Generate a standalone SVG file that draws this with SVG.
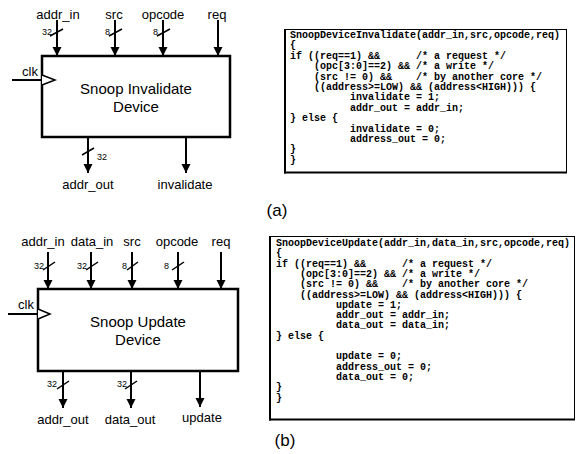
<svg xmlns="http://www.w3.org/2000/svg" width="576" height="454" viewBox="0 0 576 454">
<defs>
<marker id="ah" markerUnits="userSpaceOnUse" markerWidth="10" markerHeight="10" refX="9" refY="4.5" orient="auto">
<path d="M0,0 L9,4.5 L0,9 z" fill="#000"/>
</marker>
<style>
.lbl{font-family:"Liberation Sans",Arial,sans-serif;font-size:13px;fill:#000;text-anchor:middle}
.w{font-family:"Liberation Sans",Arial,sans-serif;font-size:9px;fill:#000}
.ttl{font-family:"Liberation Sans",Arial,sans-serif;font-size:15px;fill:#000;text-anchor:middle}
.cap{font-family:"Liberation Sans",Arial,sans-serif;font-size:17px;fill:#000;text-anchor:middle}
.code{font-family:"Liberation Mono","Courier New",monospace;font-size:10px;font-weight:bold;fill:#000}
.box{fill:#fff;stroke:#000;stroke-width:2.5}
.cbox{fill:#fff;stroke:#000;stroke-width:1}
.wire{stroke:#000;stroke-width:2;fill:none}
.arr{stroke:#000;stroke-width:2;fill:none;marker-end:url(#ah)}
.sl{stroke:#000;stroke-width:1.5}
.clk{fill:#fff;stroke:#000;stroke-width:1.5}
</style>
</defs>

<g id="connectors">
<!-- (a) inputs -->
<line class="arr" x1="57" y1="20" x2="57" y2="56"/>
<line class="arr" x1="115" y1="20" x2="115" y2="56"/>
<line class="arr" x1="163" y1="20" x2="163" y2="56"/>
<line class="arr" x1="218" y1="20" x2="218" y2="56"/>
<line class="wire" x1="12" y1="80" x2="42" y2="80"/>
<!-- (a) outputs -->
<line class="arr" x1="88" y1="137" x2="88" y2="173"/>
<line class="arr" x1="186" y1="137" x2="186" y2="173"/>
<!-- (a) bus slashes -->
<line class="sl" x1="50" y1="36" x2="63" y2="29"/>
<line class="sl" x1="109" y1="36" x2="122" y2="29"/>
<line class="sl" x1="157" y1="36" x2="170" y2="29"/>
<line class="sl" x1="82" y1="155" x2="94" y2="148"/>

<!-- (b) inputs -->
<line class="arr" x1="48" y1="252" x2="48" y2="289"/>
<line class="arr" x1="91" y1="252" x2="91" y2="289"/>
<line class="arr" x1="132" y1="252" x2="132" y2="289"/>
<line class="arr" x1="178" y1="252" x2="178" y2="289"/>
<line class="arr" x1="221" y1="252" x2="221" y2="289"/>
<line class="wire" x1="8" y1="314" x2="38" y2="314"/>
<!-- (b) outputs -->
<line class="arr" x1="63" y1="371" x2="63" y2="408"/>
<line class="arr" x1="131" y1="371" x2="131" y2="408"/>
<line class="arr" x1="200" y1="371" x2="200" y2="407"/>
<!-- (b) bus slashes -->
<line class="sl" x1="43" y1="270" x2="55" y2="262"/>
<line class="sl" x1="86" y1="270" x2="98" y2="262"/>
<line class="sl" x1="127" y1="270" x2="138" y2="262"/>
<line class="sl" x1="172" y1="270" x2="184" y2="262"/>
<line class="sl" x1="57" y1="389" x2="69" y2="381"/>
<line class="sl" x1="125" y1="389" x2="137" y2="381"/>
</g>

<g id="invalidate-device">
<rect class="box" x="42" y="56" width="188" height="81"/>
<path class="clk" d="M42,75 L55,80 L42,85"/>
<text class="ttl" x="136" y="94">Snoop Invalidate</text>
<text class="ttl" x="136" y="112">Device</text>
</g>

<g id="invalidate-labels">
<text class="lbl" x="58" y="19">addr_in</text>
<text class="lbl" x="114" y="19">src</text>
<text class="lbl" x="163" y="19">opcode</text>
<text class="lbl" x="217" y="19">req</text>
<text class="lbl" x="30" y="76">clk</text>
<text class="lbl" x="88" y="189">addr_out</text>
<text class="lbl" x="185" y="189">invalidate</text>
<text class="w" x="42" y="35">32</text>
<text class="w" x="105" y="35">8</text>
<text class="w" x="153" y="35">8</text>
<text class="w" x="97" y="160">32</text>
<text class="cap" x="277" y="216">(a)</text>
</g>

<g id="invalidate-code">
<rect class="cbox" x="284.5" y="29.5" width="282" height="143"/>
<line x1="285" y1="29" x2="285" y2="173.5" stroke="#000" stroke-width="2"/>
<line x1="284" y1="172.5" x2="567" y2="172.5" stroke="#000" stroke-width="2"/>
<text class="code" xml:space="preserve" x="290" y="38">SnoopDeviceInvalidate(addr_in,src,opcode,req)</text>
<text class="code" xml:space="preserve" x="290" y="48.4">{</text>
<text class="code" xml:space="preserve" x="290" y="58.8">if ((req==1) &amp;&amp;      /* a request */</text>
<text class="code" xml:space="preserve" x="290" y="69.2">    (opc[3:0]==2) &amp;&amp; /* a write */</text>
<text class="code" xml:space="preserve" x="290" y="79.6">    (src != 0) &amp;&amp;    /* by another core */</text>
<text class="code" xml:space="preserve" x="290" y="90">    ((address&gt;=LOW) &amp;&amp; (address&lt;HIGH))) {</text>
<text class="code" xml:space="preserve" x="290" y="100.4">          invalidate = 1;</text>
<text class="code" xml:space="preserve" x="290" y="110.8">          addr_out = addr_in;</text>
<text class="code" xml:space="preserve" x="290" y="121.2">} else {</text>
<text class="code" xml:space="preserve" x="290" y="131.6">          invalidate = 0;</text>
<text class="code" xml:space="preserve" x="290" y="142">          address_out = 0;</text>
<text class="code" xml:space="preserve" x="290" y="152.4">}</text>
<text class="code" xml:space="preserve" x="290" y="162.8">}</text>
</g>

<g id="update-device">
<rect class="box" x="38" y="289" width="200" height="82"/>
<path class="clk" d="M38,309 L50,314 L38,319"/>
<text class="ttl" x="138" y="327">Snoop Update</text>
<text class="ttl" x="138" y="345">Device</text>
</g>

<g id="update-labels">
<text class="lbl" x="43" y="246">addr_in</text>
<text class="lbl" x="92" y="246">data_in</text>
<text class="lbl" x="132" y="246">src</text>
<text class="lbl" x="177" y="246">opcode</text>
<text class="lbl" x="221" y="246">req</text>
<text class="lbl" x="26" y="309">clk</text>
<text class="lbl" x="63" y="424">addr_out</text>
<text class="lbl" x="130" y="424">data_out</text>
<text class="lbl" x="202" y="422">update</text>
<text class="w" x="34" y="269">32</text>
<text class="w" x="77" y="269">32</text>
<text class="w" x="122" y="269">8</text>
<text class="w" x="164" y="269">8</text>
<text class="w" x="47" y="387">32</text>
<text class="w" x="117" y="387">32</text>
<text class="cap" x="285" y="446">(b)</text>
</g>

<g id="update-code">
<rect class="cbox" x="269.5" y="236.5" width="305" height="183"/>
<line x1="270" y1="236" x2="270" y2="420.5" stroke="#000" stroke-width="2"/>
<line x1="269" y1="419.5" x2="575" y2="419.5" stroke="#000" stroke-width="2"/>
<text class="code" xml:space="preserve" x="276" y="246">SnoopDeviceUpdate(addr_in,data_in,src,opcode,req)</text>
<text class="code" xml:space="preserve" x="276" y="256.3">{</text>
<text class="code" xml:space="preserve" x="276" y="266.6">if ((req==1) &amp;&amp;      /* a request */</text>
<text class="code" xml:space="preserve" x="276" y="276.9">    (opc[3:0]==2) &amp;&amp; /* a write */</text>
<text class="code" xml:space="preserve" x="276" y="287.2">    (src != 0) &amp;&amp;    /* by another core */</text>
<text class="code" xml:space="preserve" x="276" y="297.5">    ((address&gt;=LOW) &amp;&amp; (address&lt;HIGH))) {</text>
<text class="code" xml:space="preserve" x="276" y="307.8">          update = 1;</text>
<text class="code" xml:space="preserve" x="276" y="318.1">          addr_out = addr_in;</text>
<text class="code" xml:space="preserve" x="276" y="328.4">          data_out = data_in;</text>
<text class="code" xml:space="preserve" x="276" y="338.7">} else {</text>
<text class="code" xml:space="preserve" x="276" y="359.3">          update = 0;</text>
<text class="code" xml:space="preserve" x="276" y="369.6">          address_out = 0;</text>
<text class="code" xml:space="preserve" x="276" y="379.9">          data_out = 0;</text>
<text class="code" xml:space="preserve" x="276" y="390.2">}</text>
<text class="code" xml:space="preserve" x="276" y="400.5">}</text>
</g>
</svg>
